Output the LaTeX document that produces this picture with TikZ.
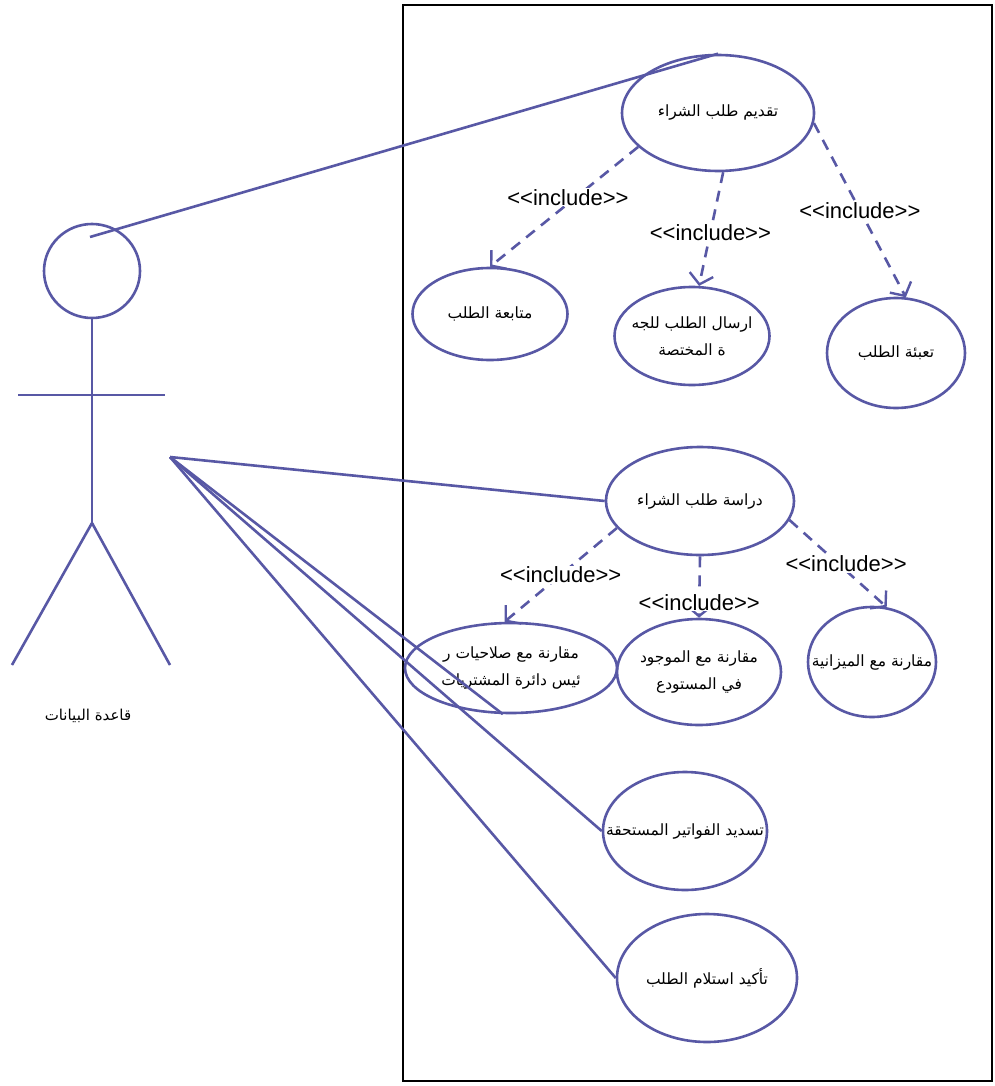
\documentclass[tikz,border=0pt]{standalone}
\usepackage{fontspec}
\setmainfont{Liberation Sans}
\newfontfamily\arabicfont[Script=Arabic]{DejaVu Sans}
\TeXXeTstate=1
\usetikzlibrary{arrows.meta,shapes.geometric}
\definecolor{umlblue}{RGB}{88,88,165}
% right-to-left line whose width does not size the node around it
\newcommand{\ar}[1]{\makebox[0pt]{\arabicfont\beginR #1\endR}}
\newcommand{\inclabel}{{<}{<}include{>}{>}}
\begin{document}
\begin{tikzpicture}[x=1pt,y=-1pt,
  usecase/.style={ellipse,draw=umlblue,line width=2.6pt,inner sep=0pt,
    align=center,font=\arabicfont\fontsize{15.5}{27}\selectfont},
  assoc/.style={draw=umlblue,line width=2.6pt},
  incl/.style={draw=umlblue,line width=2.6pt,dash pattern=on 11pt off 8pt,
    -{Straight Barb[length=10pt,width=24pt,line width=2.4pt]}},
  incllabel/.style={fill=white,inner sep=1pt,font=\fontsize{22}{26}\selectfont},
  limb/.style={draw=umlblue,line width=2.6pt}]
\useasboundingbox (0,0) rectangle (995,1086);
\fill[white] (0,0) rectangle (995,1086);

% system boundary
\draw[black,line width=2.8pt] (403,5) rectangle (992,1081);

% actor
\node[ellipse,draw=umlblue,line width=2.6pt,minimum width=96pt,minimum height=94pt,inner sep=0pt] (head) at (92,271) {};
\coordinate (hip) at (92,523);
\coordinate (armL) at (18,395);
\coordinate (armR) at (165,395);
\coordinate (footL) at (12,665);
\coordinate (footR) at (170,665);
\coordinate (hand) at (170,457);
\coordinate (headlink) at (90,237);
\draw[limb] (head.south) -- (hip);
\draw[limb] (armL) -- (armR);
\draw[limb] (hip) -- (footL);
\draw[limb] (hip) -- (footR);
\node[font=\arabicfont\fontsize{15}{18}\selectfont] (actorname) at (88,716) {\ar{قاعدة البيانات}};

% use cases
\node[usecase,minimum width=192pt,minimum height=116pt] (u1) at (718,113) {\ar{تقديم طلب الشراء}};
\node[usecase,minimum width=155pt,minimum height=92pt] (u2) at (490,314) {\ar{متابعة الطلب}};
\node[usecase,minimum width=155pt,minimum height=98pt] (u3) at (692,336) {\ar{ارسال الطلب للجه}\\\ar{ة المختصة}};
\node[usecase,minimum width=138pt,minimum height=110pt] (u4) at (896,353) {\ar{تعبئة الطلب}};
\node[usecase,minimum width=188pt,minimum height=108pt] (u5) at (700,501) {\ar{دراسة طلب الشراء}};
\node[usecase,minimum width=212pt,minimum height=90pt] (u6) at (511,668) {\ar{مقارنة مع صلاحيات ر}\\\ar{ئيس دائرة المشتريات}};
\node[usecase,minimum width=164pt,minimum height=106pt] (u7) at (699,672) {\ar{مقارنة مع الموجود}\\\ar{في المستودع}};
\node[usecase,minimum width=128pt,minimum height=110pt] (u8) at (872,662) {\ar{مقارنة مع الميزانية}};
\node[usecase,minimum width=164pt,minimum height=118pt] (u9) at (685,831) {\ar{تسديد الفواتير المستحقة}};
\node[usecase,minimum width=180pt,minimum height=128pt] (u10) at (707,978) {\ar{تأكيد استلام الطلب}};

% associations
\draw[assoc] (headlink) -- (u1.north);
\draw[assoc] (hand) -- (u5.west);
\draw[assoc] (hand) -- (u6.260);
\draw[assoc] (hand) -- (u9.west);
\draw[assoc] (hand) -- (u10.west);

% include relations
\draw[incl] (u1.203) -- (u2.north) node[incllabel,pos=0.42,xshift=-8pt] (l1) {\inclabel};
\draw[incl] (u1.275) -- (u3.82) node[incllabel,pos=0.53] (l2) {\inclabel};
\draw[incl] (u1.354) -- (u4.80) node[incllabel,pos=0.5] (l3) {\inclabel};
\draw[incl] (u5.198) -- (u6.98) node[incllabel,pos=0.5] (l4) {\inclabel};
\draw[incl] (u5.south) -- (u7.north) node[incllabel,pos=0.75] (l5) {\inclabel};
\draw[incl] (u5.348) -- (u8.75) node[incllabel,pos=0.5,xshift=8pt] (l6) {\inclabel};
\end{tikzpicture}
\end{document}
